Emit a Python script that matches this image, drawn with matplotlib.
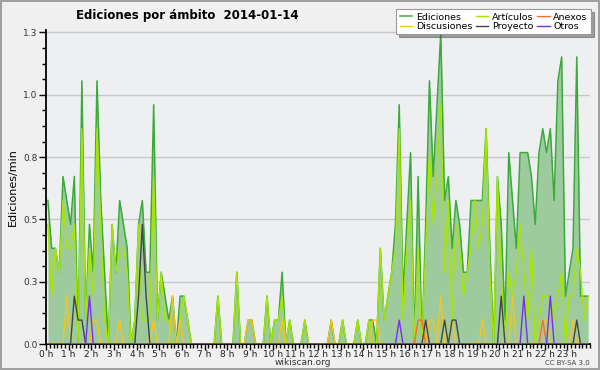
import matplotlib
matplotlib.use("Agg")
import matplotlib.pyplot as plt
from matplotlib.ticker import MultipleLocator, FixedLocator
import numpy as np

# edits per 10-minute slot (144 slots), converted to edits/min below
slot_scale = 0.096

ediciones = [6, 4, 4, 3, 7, 6, 5, 7, 0, 11, 1, 5,
             3, 11, 6, 3, 0, 5, 3, 6, 5, 4, 0, 1,
             5, 6, 3, 3, 10, 1, 3, 2, 1, 2, 0, 2,
             2, 1, 0, 0, 0, 0, 0, 0, 0, 2, 0, 0,
             0, 0, 3, 0, 0, 1, 1, 0, 0, 0, 2, 0,
             1, 1, 3, 0, 1, 0, 0, 0, 1, 0, 0, 0,
             0, 0, 0, 1, 0, 0, 1, 0, 0, 0, 1, 0,
             0, 1, 1, 0, 4, 1, 2, 3, 5, 10, 2, 5,
             8, 0, 7, 0, 5, 11, 7, 10, 13, 6, 7, 4,
             6, 5, 3, 3, 6, 6, 6, 6, 9, 4, 0, 7,
             5, 1, 8, 6, 4, 8, 8, 8, 7, 5, 8, 9,
             8, 9, 6, 11, 12, 2, 3, 4, 12, 2, 2, 2]

articulos = [5, 2, 4, 3, 6, 4, 4, 5, 0, 9, 1, 4,
             2, 9, 5, 1, 0, 5, 3, 4, 4, 3, 0, 1,
             5, 1, 1, 1, 7, 1, 3, 1, 1, 0, 0, 1,
             2, 1, 0, 0, 0, 0, 0, 0, 0, 2, 0, 0,
             0, 0, 3, 0, 0, 0, 0, 0, 0, 0, 2, 0,
             1, 1, 2, 0, 1, 0, 0, 0, 1, 0, 0, 0,
             0, 0, 0, 0, 0, 0, 1, 0, 0, 0, 1, 0,
             0, 1, 0, 0, 4, 1, 2, 3, 4, 9, 1, 4,
             6, 0, 4, 0, 4, 8, 5, 7, 10, 3, 6, 1,
             5, 4, 2, 3, 4, 6, 4, 5, 9, 3, 0, 7,
             3, 0, 3, 2, 3, 5, 3, 1, 4, 0, 1, 2,
             2, 2, 1, 2, 3, 0, 2, 2, 4, 3, 1, 2]

anexos = [0] * 144
for i in (98, 99, 131):
    anexos[i] = 1

discusiones = [0] * 144
for i, v in [(5, 2), (12, 1), (13, 1), (19, 1), (28, 1), (33, 2), (35, 1),
             (53, 1), (54, 1), (62, 1), (75, 1), (86, 1), (87, 1), (101, 1),
             (102, 1), (104, 2), (107, 1), (115, 1), (123, 2), (131, 1),
             (132, 1), (139, 1)]:
    discusiones[i] = v

proyecto = [0] * 144
for i, v in [(7, 2), (8, 1), (9, 1), (24, 2), (25, 5), (26, 2), (100, 1),
             (105, 1), (107, 1), (108, 1), (120, 2), (140, 1)]:
    proyecto[i] = v

otros = [0] * 144
for i, v in [(11, 2), (93, 1), (126, 2), (133, 2)]:
    otros[i] = v

hours = (np.arange(144) + 0.5) / 6.0
hour_labels = ["%d h" % h for h in range(24)]
ytick_vals = [0, 0.25, 0.5, 0.75, 1.0, 1.25]
ytick_labels = ["0.0", "0.3", "0.5", "0.8", "1.0", "1.3"]

fig = plt.figure(figsize=(6, 3.7), dpi=100, facecolor="#f0f0f0")
fig.patch.set_edgecolor("#a0a0a0")
fig.patch.set_linewidth(1.5)
ax = fig.add_axes([46 / 600, 1 - 344 / 370, 544 / 600, (344 - 30) / 370])
ax.set_facecolor("#eeeff1")

E = np.array(ediciones) * slot_scale
ax.fill_between(hours, E, 0, color="#9ecb9e", lw=0, zorder=1)
ax.plot(hours, E, color="#3aaa3a", lw=1.1, zorder=3, label="Ediciones")
series = [("Artículos", articulos, "#a6e600"),
          ("Discusiones", discusiones, "#f5c518"),
          ("Anexos", anexos, "#ff6a2a"),
          ("Proyecto", proyecto, "#444444"),
          ("Otros", otros, "#7a2ef0")]
lines = {}
for name, vals, col in series:
    lines[name], = ax.plot(hours, np.array(vals) * slot_scale, color=col,
                           lw=1.0, zorder=4, label=name)

ax.set_xlim(0, 24)
ax.set_ylim(0, 1.26)
ax.xaxis.set_major_locator(FixedLocator(range(24)))
ax.set_xticklabels(hour_labels, fontsize=6.5, color="#222222")
ax.xaxis.set_minor_locator(MultipleLocator(1 / 6))
ax.yaxis.set_major_locator(FixedLocator(ytick_vals))
ax.set_yticklabels(ytick_labels, fontsize=6.5, color="#333333")
ax.yaxis.set_minor_locator(MultipleLocator(0.0625))
ax.tick_params(axis="x", which="major", length=4, width=1, pad=0.5)
ax.tick_params(axis="x", which="minor", length=3, width=1)
ax.tick_params(axis="y", which="major", length=5, width=1, pad=1)
ax.tick_params(axis="y", which="minor", length=3, width=1)
ax.grid(axis="y", color="#c8c8c8", lw=1, zorder=0)
ax.set_axisbelow(True)
for s in ("top", "right"):
    ax.spines[s].set_visible(False)
for s in ("left", "bottom"):
    ax.spines[s].set_linewidth(1.3)
ax.set_ylabel("Ediciones/min", fontsize=8, labelpad=4)

fig.text(0.313, 0.957, "Ediciones por ámbito  2014-01-14", ha="center",
         va="center", fontsize=8.5, fontweight="bold")
fig.text(0.505, 0.02, "wikiscan.org", ha="center", va="center", fontsize=6.5,
         color="#333333")
fig.text(0.983, 0.02, "CC BY-SA 3.0", ha="right", va="center", fontsize=5,
         color="#444444")

handles = [ax.get_lines()[0], lines["Discusiones"], lines["Artículos"],
           lines["Proyecto"], lines["Anexos"], lines["Otros"]]
leg = fig.legend(handles=handles, labels=[h.get_label() for h in handles],
                 ncol=3, loc="upper right", bbox_to_anchor=(0.985, 0.975),
                 fontsize=6.8, frameon=True, fancybox=False, shadow=True,
                 handlelength=1.3, handletextpad=0.4, columnspacing=0.4,
                 labelspacing=0.05, borderpad=0.35, borderaxespad=0)
leg.get_frame().set_edgecolor("#999999")
leg.get_frame().set_linewidth(0.8)

fig.savefig("out.png", dpi=100, facecolor=fig.get_facecolor(),
            edgecolor=fig.get_edgecolor())
